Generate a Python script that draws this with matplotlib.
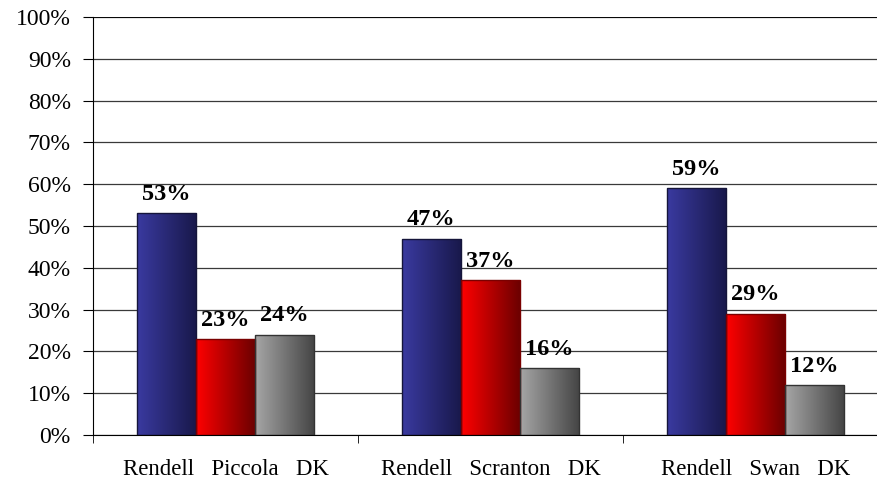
import numpy as np
import matplotlib
matplotlib.use("Agg")
import matplotlib.pyplot as plt
from matplotlib.colors import LinearSegmentedColormap
from matplotlib.ticker import FuncFormatter, FixedLocator

plt.rcParams['font.family'] = ['Liberation Serif', 'DejaVu Serif']

groups = ["Rendell   Piccola   DK", "Rendell   Scranton   DK", "Rendell   Swan   DK"]
rendell = [53, 47, 59]
opponent = [23, 37, 29]
dk = [24, 16, 12]

series = [rendell, opponent, dk]
gradients = [("#3a3aa0", "#18184a"), ("#ff0000", "#6a0000"), ("#a6a6a6", "#444444")]
edges = ["#15153a", "#7a0000", "#333333"]

fig = plt.figure(figsize=(8.77, 4.8), dpi=100)
ax = fig.add_axes([93 / 877, 45 / 480, 795 / 877, 418 / 480])

x = np.arange(len(groups))
width = 0.223
grad = np.linspace(0, 1, 256).reshape(1, -1)

for i, vals in enumerate(series):
    cmap = LinearSegmentedColormap.from_list("g%d" % i, gradients[i])
    bars = ax.bar(x + (i - 1) * width, vals, width, facecolor="none",
                  edgecolor=edges[i], linewidth=1.0, zorder=3)
    for b, v in zip(bars, vals):
        x0, y0 = b.get_x(), b.get_y()
        im = ax.imshow(grad, cmap=cmap, aspect="auto", zorder=2.5,
                       extent=[x0, x0 + b.get_width(), y0, y0 + b.get_height()])
        im.set_clip_path(b)
        ax.annotate("%d%%" % v, (b.get_x() + b.get_width() / 2, v),
                    xytext=(0, 6), textcoords="offset points",
                    ha="center", va="bottom", fontsize=17.5, fontweight="bold")

ax.set_xlim(-0.5, 2.5)
ax.set_ylim(0, 100)
ax.yaxis.set_major_locator(FixedLocator(range(0, 101, 10)))
ax.yaxis.set_major_formatter(FuncFormatter(lambda v, p: "%d%%" % v))
ax.grid(axis="y", color="#3a3a3a", linewidth=0.9, zorder=0)
ax.set_axisbelow(True)

ax.set_xticks(x)
ax.set_xticklabels(groups)
ax.set_xticks([-0.5, 0.5, 1.5], minor=True)
ax.tick_params(axis="x", which="major", length=0, pad=17, labelsize=16.5)
ax.tick_params(axis="x", which="minor", length=6, direction="out", color="black")
ax.tick_params(axis="y", length=7, direction="out", pad=9, labelsize=17)

for s in ["top", "right"]:
    ax.spines[s].set_visible(False)
ax.spines["left"].set_color("black")
ax.spines["bottom"].set_color("black")
ax.axhline(100, color="black", linewidth=1.2, zorder=1)

fig.savefig("out.png", dpi=100)
